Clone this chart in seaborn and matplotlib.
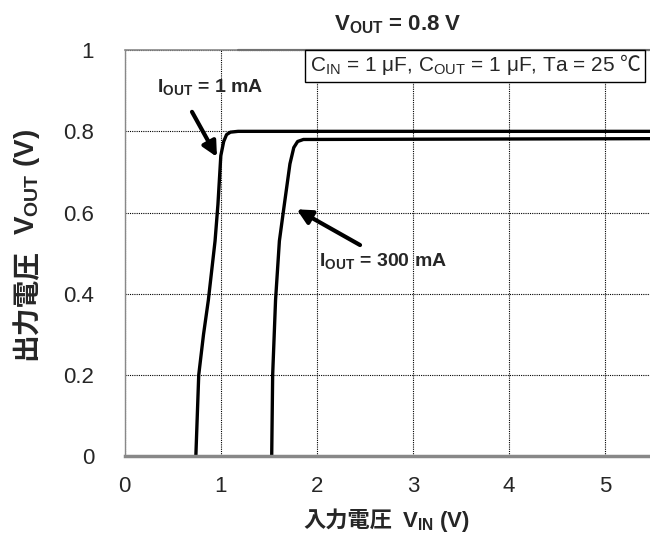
import matplotlib
matplotlib.use("Agg")
import matplotlib.pyplot as plt
import seaborn as sns
from matplotlib.offsetbox import TextArea, HPacker, AnchoredOffsetbox

# data
vin_1ma = [0.74, 0.77, 0.82, 0.87, 0.94, 0.97, 1.0, 1.03, 1.06, 1.1, 1.18, 5.5]
vout_1ma = [0.0, 0.2, 0.3, 0.384, 0.53, 0.62, 0.74, 0.775, 0.792, 0.798, 0.8, 0.8]
vin_300ma = [1.53, 1.54, 1.57, 1.61, 1.65, 1.72, 1.76, 1.8, 1.86, 5.5]
vout_300ma = [0.0, 0.2, 0.384, 0.53, 0.6, 0.72, 0.76, 0.775, 0.78, 0.782]
xticks = [0, 1, 2, 3, 4, 5]
yticks = [0, 0.2, 0.4, 0.6, 0.8, 1]
ytick_labels = ['0', '0.2', '0.4', '0.6', '0.8', '1']

sns.set_style("white")
fam = ['Liberation Sans', 'Noto Sans CJK JP', 'DejaVu Sans']
plt.rcParams['font.family'] = fam
plt.rcParams['mathtext.fontset'] = 'custom'
plt.rcParams['mathtext.rm'] = 'Liberation Sans'
plt.rcParams['mathtext.bf'] = 'Liberation Sans:bold'

fig = plt.figure(figsize=(6.5, 5.45), dpi=100)
ax = fig.add_axes([0.192, 0.163, 0.808, 0.745])

sns.lineplot(x=vin_1ma, y=vout_1ma, ax=ax, color='black', linewidth=2.4, sort=False)
sns.lineplot(x=vin_300ma, y=vout_300ma, ax=ax, color='black', linewidth=2.4, sort=False)

ax.set_xlim(0, 5.47)
ax.set_ylim(0, 1)
ax.set_xticks(xticks)
ax.set_yticks(yticks)
ax.set_xticklabels([str(v) for v in xticks], fontsize=16)
ax.set_yticklabels(ytick_labels, fontsize=16)
ax.tick_params(axis='x', length=0, pad=14)
ax.tick_params(axis='y', length=0, pad=22)
ax.grid(True, color='black', linestyle=(0, (1, 1)), linewidth=0.8)

ax.spines['right'].set_visible(False)
ax.spines['left'].set_color('#888888')
ax.spines['left'].set_linewidth(1.0)
ax.spines['bottom'].set_color('#888888')
ax.spines['bottom'].set_linewidth(2.5)
ax.spines['top'].set_color('#888888')
ax.spines['top'].set_linewidth(1.2)
ax.axhline(1, xmin=0.215, xmax=1, color='black', linewidth=1.5, clip_on=False)

ax.set_title(r"V$_\mathbf{OUT}$ = 0.8 V", fontsize=16, fontweight='bold', x=0.52, pad=14)

# axis labels: Japanese part and subscripted part as two pieces
fig.text(0.603, 0.033, "入力電圧", fontsize=16, fontweight='bold', ha='right', va='baseline')
fig.text(0.618, 0.033, r"V$_\mathbf{IN}$ (V)", fontsize=16, fontweight='bold', ha='left', va='baseline')
fig.text(0.053, 0.543, "出力電圧", fontsize=20, fontweight='bold', rotation=90,
         rotation_mode='anchor', ha='right', va='baseline')
fig.text(0.053, 0.568, r"V$_\mathbf{OUT}$ (V)", fontsize=20, fontweight='bold', rotation=90,
         rotation_mode='anchor', ha='left', va='baseline')

# condition box: mathtext part plus the ℃ sign in a font that has it
cond = HPacker(children=[
    TextArea(r"C$_\mathrm{IN}$ = 1 μF, C$_\mathrm{OUT}$ = 1 μF, Ta = 25",
             textprops=dict(fontsize=15)),
    TextArea("℃", textprops=dict(fontsize=15, family=['Noto Sans CJK JP'])),
], align='baseline', pad=0, sep=4)
box = AnchoredOffsetbox(loc='center', child=cond, pad=0.33, borderpad=0, frameon=True,
                        bbox_to_anchor=(3.65, 0.961), bbox_transform=ax.transData)
box.patch.set_edgecolor('black')
box.patch.set_linewidth(1.0)
box.patch.set_boxstyle('square', pad=0)
ax.add_artist(box)

arrow = dict(arrowstyle='-|>', color='black', linewidth=3, mutation_scale=22, shrinkA=0, shrinkB=0)
ax.text(0.89, 0.906, r"I$_\mathbf{OUT}$ = 1 mA", fontsize=14, fontweight='bold', ha='center', va='center')
ax.annotate("", xy=(0.96, 0.737), xytext=(0.70, 0.848), arrowprops=arrow)
ax.text(2.69, 0.478, r"I$_\mathbf{OUT}$ = 300 mA", fontsize=14, fontweight='bold', ha='center', va='center')
ax.annotate("", xy=(1.79, 0.608), xytext=(2.45, 0.52), arrowprops=arrow)

fig.savefig("out.png", dpi=100)
